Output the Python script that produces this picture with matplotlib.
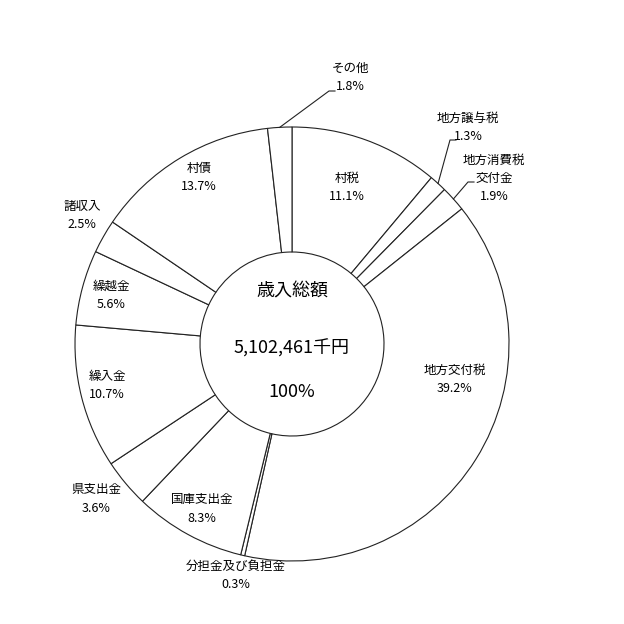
import numpy as np
import matplotlib
matplotlib.use("Agg")
import matplotlib.pyplot as plt

plt.rcParams['font.family'] = ['Noto Sans CJK JP', 'DejaVu Sans']

# 歳入 breakdown (%), clockwise from the top
names = ["村税", "地方譲与税", "地方消費税\n交付金", "地方交付税", "分担金及び負担金",
         "国庫支出金", "県支出金", "繰入金", "繰越金", "諸収入", "村債", "その他"]
shares = [11.1, 1.3, 1.9, 39.2, 0.3, 8.3, 3.6, 10.7, 5.6, 2.5, 13.7, 1.8]
total_label = "5,102,461千円"

# label layout in image pixels (x, y of first line), outside labels get a leader
label_px = {
    "村税": (347, 178), "地方譲与税": (468, 118), "地方消費税\n交付金": (494, 160),
    "地方交付税": (455, 370), "分担金及び負担金": (236, 566), "国庫支出金": (202, 500),
    "県支出金": (96, 490), "繰入金": (107, 376), "繰越金": (111, 286),
    "諸収入": (82, 206), "村債": (199, 168), "その他": (350, 68),
}
leader_end_px = {"その他": (329, 91), "地方譲与税": (450, 140), "地方消費税\n交付金": (468, 182)}

CX, CY, R = 292, 344, 217


def to_data(px, py):
    return (px - CX) / R, (CY - py) / R


fig = plt.figure(figsize=(6.24, 6.24), dpi=100)
ax = fig.add_axes([(CX - R) / 624, 1 - (CY + R) / 624, 2 * R / 624, 2 * R / 624])

wedges, _ = ax.pie(shares, startangle=90, counterclock=False, radius=1,
                   colors=["white"] * len(shares),
                   wedgeprops=dict(width=1 - 92 / 217, edgecolor="#222222", linewidth=0.8))
# pie() resets the limits, so set them afterwards
ax.set_xlim(-1, 1)
ax.set_ylim(-1, 1)
ax.set_aspect("equal")
ax.axis("off")

lab_fs = 9
line_h = 18 / R
for w, name, val in zip(wedges, names, shares):
    px, py = label_px[name]
    x, y = to_data(px, py)
    lines = name.split("\n") + [f"{val}%"]
    for i, t in enumerate(lines):
        ax.text(x, y - i * line_h, t, ha="center", va="center", fontsize=lab_fs)
    if name in leader_end_px:
        mid = np.deg2rad((w.theta1 + w.theta2) / 2)
        sx, sy = np.cos(mid), np.sin(mid)
        ex, ey = to_data(*leader_end_px[name])
        ax.plot([sx, ex, ex + 6 / R], [sy, ey, ey], color="#222222", lw=0.8, clip_on=False)

ax.text(0, to_data(0, 292)[1], "歳入総額", ha="center", va="center", fontsize=13)
ax.text(0, to_data(0, 348)[1], total_label, ha="center", va="center", fontsize=13)
ax.text(0, to_data(0, 392)[1], "100%", ha="center", va="center", fontsize=13)

fig.savefig("out.png", dpi=100, facecolor="white")
